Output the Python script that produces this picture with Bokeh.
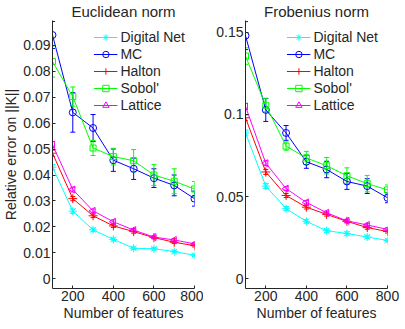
import numpy as np
from bokeh.plotting import figure
from bokeh.layouts import row
from bokeh.models import Range1d, FixedTicker, Whisker, ColumnDataSource, TeeHead
from bokeh.embed import file_html
from bokeh.resources import INLINE

features = [100, 200, 300, 400, 500, 600, 700, 800]
series_names = ["Digital Net", "MC", "Halton", "Sobol'", "Lattice"]

# Euclidean norm
euc_dn = [0.0430, 0.0261, 0.0189, 0.0152, 0.0118, 0.0116, 0.0105, 0.0091]
euc_mc = [0.0939, 0.0641, 0.0581, 0.0457, 0.0424, 0.0388, 0.0360, 0.0309]
euc_halton = [0.0484, 0.0309, 0.0243, 0.0204, 0.0182, 0.0159, 0.0141, 0.0128]
euc_sobol = [0.0837, 0.0702, 0.0504, 0.0471, 0.0455, 0.0400, 0.0376, 0.0346]
euc_lattice = [0.0517, 0.0344, 0.0262, 0.0220, 0.0188, 0.0161, 0.0150, 0.0135]
euc_dn_err = [0.0010, 0.0008, 0.0006, 0.0006, 0.0005, 0.0005, 0.0005, 0.0005]
euc_mc_err = [0.0052, 0.0076, 0.0052, 0.0043, 0.0041, 0.0036, 0.0040, 0.0029]
euc_halton_err = [0.0012, 0.0008, 0.0007, 0.0006, 0.0006, 0.0005, 0.0005, 0.0005]
euc_sobol_err = [0.0060, 0.0037, 0.0029, 0.0032, 0.0043, 0.0040, 0.0048, 0.0029]
euc_lattice_err = [0.0012, 0.0009, 0.0007, 0.0007, 0.0006, 0.0005, 0.0005, 0.0005]

# Frobenius norm
fro_dn = [0.0887, 0.0564, 0.0427, 0.0350, 0.0293, 0.0276, 0.0255, 0.0234]
fro_mc = [0.1478, 0.1027, 0.0887, 0.0712, 0.0665, 0.0592, 0.0564, 0.0493]
fro_halton = [0.0979, 0.0650, 0.0507, 0.0436, 0.0392, 0.0350, 0.0312, 0.0288]
fro_sobol = [0.1354, 0.1055, 0.0807, 0.0735, 0.0688, 0.0627, 0.0579, 0.0541]
fro_lattice = [0.1048, 0.0703, 0.0549, 0.0465, 0.0402, 0.0353, 0.0328, 0.0301]
fro_dn_err = [0.0018, 0.0015, 0.0012, 0.0011, 0.0010, 0.0010, 0.0010, 0.0009]
fro_mc_err = [0.0085, 0.0070, 0.0045, 0.0040, 0.0050, 0.0048, 0.0045, 0.0030]
fro_halton_err = [0.0018, 0.0015, 0.0012, 0.0011, 0.0010, 0.0010, 0.0010, 0.0009]
fro_sobol_err = [0.0050, 0.0040, 0.0025, 0.0040, 0.0050, 0.0048, 0.0050, 0.0030]
fro_lattice_err = [0.0018, 0.0015, 0.0012, 0.0011, 0.0010, 0.0010, 0.0010, 0.0009]

x_ticks = [200, 400, 600, 800]
euc_yticks = [0, 0.01, 0.02, 0.03, 0.04, 0.05, 0.06, 0.07, 0.08, 0.09]
euc_ylabels = ["0", "0.01", "0.02", "0.03", "0.04", "0.05", "0.06", "0.07", "0.08", "0.09"]
fro_yticks = [0, 0.05, 0.1, 0.15]
fro_ylabels = ["0", "0.05", "0.1", "0.15"]

colors = ["#00FFFF", "#0000FF", "#FF0000", "#00FF00", "#FF00FF"]
markers = ["asterisk", "circle", "cross", "square", "triangle"]
msizes = [8, 7, 9, 6, 7]
angles = [0, 0, 0, 0, np.pi / 2]

FONT = "Liberation Sans"
TXT = "#262626"


def make_fig(title, values, errs, ymin, ymax, yticks, ylabels, fw, fh, bl, br, ylabel):
    # a little room below 0 so that Bokeh keeps the "0" tick label
    p = figure(frame_width=fw, frame_height=fh, output_backend="svg", toolbar_location=None,
               x_range=Range1d(features[0], features[-1]), y_range=Range1d(ymin, ymax),
               min_border_left=bl, min_border_right=br, min_border_top=0, min_border_bottom=0)
    p.title.text = title
    p.title.align = "center"
    p.title.text_font = FONT
    p.title.text_font_size = "15px"
    p.title.text_font_style = "normal"
    p.title.text_color = TXT
    p.title.standoff = 1
    p.outline_line_color = None
    p.grid.visible = False
    p.background_fill_color = "white"

    for name, vals, err, c, m, s, a in zip(series_names, values, errs, colors, markers, msizes, angles):
        src = ColumnDataSource(dict(x=features, y=vals,
                                    upper=[v + e for v, e in zip(vals, err)],
                                    lower=[v - e for v, e in zip(vals, err)]))
        w = Whisker(base="x", upper="upper", lower="lower", source=src, line_color=c, line_width=1,
                    upper_head=TeeHead(size=5, line_color=c, line_width=1),
                    lower_head=TeeHead(size=5, line_color=c, line_width=1))
        p.add_layout(w)
        p.line("x", "y", source=src, line_color=c, line_width=1, legend_label=name)
        p.scatter("x", "y", source=src, marker=m, size=s, angle=a, line_color=c,
                  fill_color=None, line_width=1, legend_label=name)

    for ax in (p.xaxis[0], p.yaxis[0]):
        ax.axis_line_color = TXT
        ax.major_tick_line_color = TXT
        ax.major_tick_in = 3
        ax.major_tick_out = 0
        ax.minor_tick_line_color = None
        ax.major_label_text_font = FONT
        ax.major_label_text_font_size = "14px"
        ax.major_label_text_color = TXT
        ax.axis_label_text_font = FONT
        ax.axis_label_text_font_size = "14px"
        ax.axis_label_text_font_style = "normal"
        ax.axis_label_text_color = TXT
        ax.major_label_standoff = 2
        ax.axis_label_standoff = 1

    p.xaxis.ticker = FixedTicker(ticks=x_ticks)
    p.xaxis.axis_label = "Number of features"
    p.yaxis.ticker = FixedTicker(ticks=yticks)
    p.yaxis.major_label_overrides = {t: l for t, l in zip(yticks, ylabels)}
    if ylabel:
        p.yaxis.axis_label = ylabel

    lg = p.legend[0]
    lg.location = "top_right"
    lg.border_line_color = None
    lg.background_fill_alpha = 0
    lg.label_text_font = FONT
    lg.label_text_font_size = "14px"
    lg.label_text_color = TXT
    lg.glyph_width = 24
    lg.glyph_height = 16
    lg.label_height = 16
    lg.spacing = 1
    lg.padding = 0
    lg.margin = 9
    lg.label_standoff = 3
    return p


p1 = make_fig("Euclidean norm",
              [euc_dn, euc_mc, euc_halton, euc_sobol, euc_lattice],
              [euc_dn_err, euc_mc_err, euc_halton_err, euc_sobol_err, euc_lattice_err],
              -0.0037, 0.0995, euc_yticks, euc_ylabels, 142, 268, 45, 9, "Relative error on ||K||")
p2 = make_fig("Frobenius norm",
              [fro_dn, fro_mc, fro_halton, fro_sobol, fro_lattice],
              [fro_dn_err, fro_mc_err, fro_halton_err, fro_sobol_err, fro_lattice_err],
              -0.0058, 0.157, fro_yticks, fro_ylabels, 142, 268, 42, 12, None)

layout = row(p1, p2)
open("out.html", "w").write(file_html(layout, INLINE))
